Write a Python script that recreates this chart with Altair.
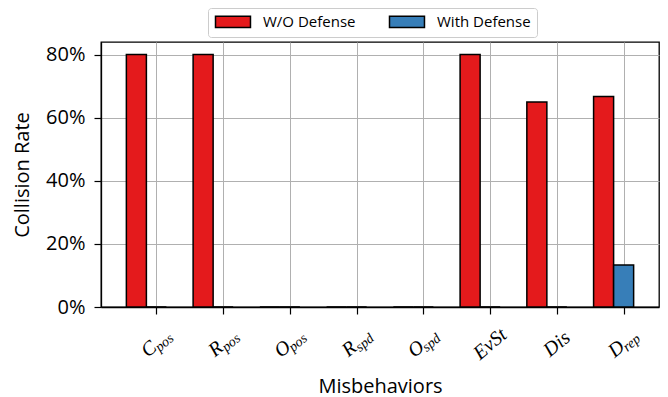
import altair as alt
import pandas as pd

# ---- data ----
categories_main = ["C", "R", "O", "R", "O", "EvSt", "Dis", "D"]
categories_sub = ["pos", "pos", "pos", "spd", "spd", "", "", "rep"]
series_names = ["W/O Defense", "With Defense"]
wo_defense = [80, 80, 0, 0, 0, 80, 65, 66.7]
with_defense = [0, 0, 0, 0, 0, 0, 0, 13.3]
y_ticks = [0, 20, 40, 60, 80]

# ---- styling / layout constants ----
BAR_W = 0.3
GROUP_OFFSET = {"W/O Defense": -0.3, "With Defense": 0.0}
COLORS = ["#e41a1c", "#377eb8"]
SANS = "Open Sans"
SERIF = "Liberation Serif"
MAIN_DX = -0.109   # centre of the big letter, relative to the tick (data units)
SUB_DX = 0.123     # centre of the subscript, relative to the tick (data units)

rows = []
for i in range(len(categories_main)):
    for name, vals in zip(series_names, [wo_defense, with_defense]):
        c = i + GROUP_OFFSET[name]
        rows.append({"idx": i, "series": name, "value": vals[i],
                     "x0": c - BAR_W / 2, "x1": c + BAR_W / 2})
bars_df = pd.DataFrame(rows)

sub_rows, plain_rows = [], []
for i, (m, s) in enumerate(zip(categories_main, categories_sub)):
    if s:
        sub_rows.append({"xm": i + MAIN_DX, "xs": i + SUB_DX, "main": m, "sub": s})
    else:
        plain_rows.append({"xp": i, "main": m})
sub_df = pd.DataFrame(sub_rows)
plain_df = pd.DataFrame(plain_rows)

n = len(categories_main)
xscale = alt.Scale(domain=[-0.83, n - 1 + 0.53], nice=False, zero=False)
yscale = alt.Scale(domain=[0, 84], nice=False)
xaxis = alt.Axis(values=list(range(n)), labels=False, title="Misbehaviors",
                 grid=True, titleX=279, titleY=85, titleAlign="center",
                 titleBaseline="alphabetic")
yaxis = alt.Axis(values=y_ticks, labelExpr="datum.value + '%'", title="Collision Rate",
                 grid=True, labelPadding=9, titleAngle=270, titleX=-73, titleY=132.5,
                 titleAlign="center", titleBaseline="alphabetic")

bars = alt.Chart(bars_df).mark_bar(stroke="black", strokeWidth=1.5).encode(
    x=alt.X("x0:Q", scale=xscale, axis=xaxis),
    x2="x1:Q",
    y=alt.Y("value:Q", scale=yscale, axis=yaxis),
    y2=alt.datum(0),
    color=alt.Color(
        "series:N",
        scale=alt.Scale(domain=series_names, range=COLORS),
        legend=alt.Legend(
            title=None, orient="none", legendX=107, legendY=-34,
            direction="horizontal", columns=2,
            symbolType="M-1,-0.95H4.83V0.95H-1Z", symbolSize=144,
            symbolStrokeColor="black", symbolStrokeWidth=1.5,
            labelOffset=34, columnPadding=30, padding=6,
            strokeColor="#cccccc", fillColor="white", cornerRadius=3,
            labelFont=SANS, labelFontSize=15, labelColor="black",
        ),
    ),
)

main_t = alt.Chart(sub_df).mark_text(
    angle=320, font=SERIF, fontStyle="italic", fontSize=20
).encode(x=alt.X("xm:Q", scale=xscale, axis=xaxis), y=alt.value(307), text="main:N")

sub_t = alt.Chart(sub_df).mark_text(
    angle=320, font=SERIF, fontStyle="italic", fontSize=14
).encode(x=alt.X("xs:Q", scale=xscale, axis=xaxis), y=alt.value(301), text="sub:N")

plain_t = alt.Chart(plain_df).mark_text(
    angle=320, font=SERIF, fontStyle="italic", fontSize=20
).encode(x=alt.X("xp:Q", scale=xscale, axis=xaxis), y=alt.value(302), text="main:N")

chart = alt.layer(bars, main_t, sub_t, plain_t).properties(
    width=558, height=265,
    autosize=alt.AutoSizeParams(type="none"),
    padding={"left": 93, "top": 34, "right": 1, "bottom": 90},
).configure_view(
    stroke="black", strokeWidth=1.3
).configure_axis(
    gridColor="#b0b0b0", gridWidth=1, domainColor="black", domainWidth=1.3,
    tickColor="black", tickSize=7, tickWidth=1.2,
    labelFont=SANS, labelFontSize=20, labelColor="black",
    titleFont=SANS, titleFontSize=20, titleFontWeight="normal", titleColor="black",
)

chart.save("out.html", embed_options={"renderer": "svg", "actions": False})
